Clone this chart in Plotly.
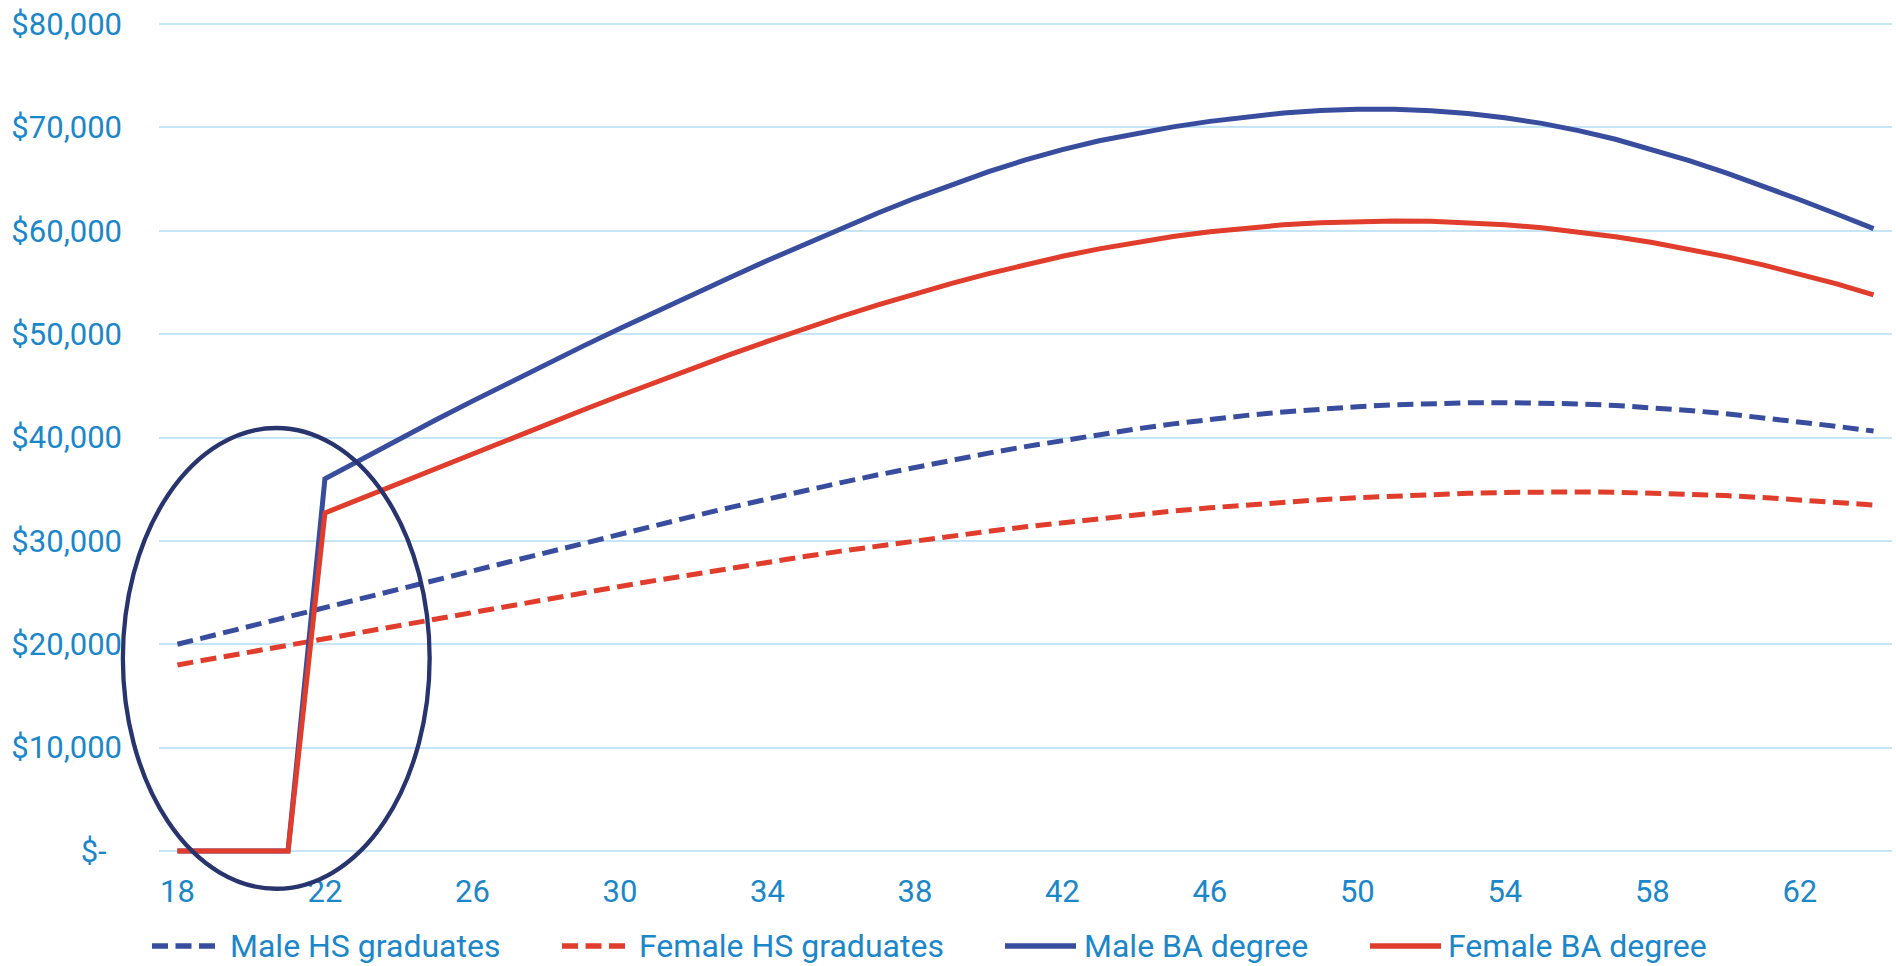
import plotly.graph_objects as go

# ---- data: average annual earnings by age ----
ages = list(range(18, 65))

male_hs = [20000, 20890, 21780, 22680, 23580, 24480, 25380, 26280, 27170, 28060,
           28940, 29820, 30690, 31550, 32400, 33240, 34060, 34860, 35640, 36390,
           37110, 37810, 38490, 39120, 39720, 40290, 40830, 41320, 41760, 42140,
           42470, 42750, 42980, 43160, 43280, 43350, 43370, 43340, 43250, 43100,
           42890, 42620, 42300, 41930, 41520, 41080, 40620]

female_hs = [18000, 18640, 19280, 19920, 20560, 21200, 21840, 22480, 23110, 23740,
             24360, 24980, 25590, 26190, 26780, 27360, 27930, 28480, 29010, 29520,
             30010, 30480, 30930, 31360, 31770, 32160, 32530, 32880, 33200, 33490,
             33750, 33980, 34180, 34350, 34490, 34600, 34680, 34730, 34740, 34710,
             34640, 34530, 34380, 34190, 33960, 33720, 33470]

male_ba = [0, 0, 0, 0, 36000, 37930, 39820, 41690, 43520, 45320,
           47100, 48840, 50550, 52230, 53880, 55510, 57120, 58690, 60230, 61720,
           63140, 64480, 65720, 66850, 67850, 68710, 69440, 70050, 70580, 71040,
           71400, 71640, 71760, 71750, 71610, 71340, 70930, 70390, 69690, 68850,
           67880, 66790, 65600, 64330, 63000, 61620, 60200]

female_ba = [0, 0, 0, 0, 32700, 34140, 35575, 37005, 38430, 39850,
             41260, 42655, 44035, 45395, 46730, 48035, 49303, 50530, 51705, 52830,
             53900, 54910, 55855, 56730, 57530, 58250, 58885, 59435, 59900, 60280,
             60575, 60785, 60910, 60950, 60920, 60800, 60590, 60290, 59900, 59420,
             58860, 58220, 57500, 56700, 55820, 54860, 53800]

series_names = ["Male HS graduates", "Female HS graduates", "Male BA degree", "Female BA degree"]
series_values = [male_hs, female_hs, male_ba, female_ba]

x_tick_vals = list(range(18, 63, 4))
x_tick_text = [str(v) for v in x_tick_vals]
y_tick_vals = list(range(0, 80001, 10000))
y_tick_text = ["$-\u00a0\u00a0"] + [f"${v:,}" for v in y_tick_vals[1:]]

# ---- styling ----
BLUE = "#394d9e"
RED = "#e03d2d"
NAVY = "#28346e"
TEXT = "#1b87c9"
GRID = "#c6e6f8"
FONT = "Roboto"
DASH = "16px,7.5px"

series_colors = [BLUE, RED, BLUE, RED]
series_dash = [DASH, DASH, "solid", "solid"]

W, H = 1896, 966
M_L, M_R, M_T, M_B = 159, 4, 20, 104
X_RANGE = [17.5, 64.5]
Y_RANGE = [-1064, 80387]

fig = go.Figure()
for name, vals, color, dash in zip(series_names, series_values, series_colors, series_dash):
    fig.add_trace(go.Scatter(
        x=ages, y=vals, name=name, mode="lines",
        line=dict(color=color, width=5, dash=dash),
        showlegend=False,
    ))

plot_w = W - M_L - M_R
plot_h = H - M_T - M_B


def px_to_paper_x(px):
    return (px - M_L) / plot_w


def px_to_paper_y(py):
    return (H - M_B - py) / plot_h


def data_to_paper_x(v):
    return (v - X_RANGE[0]) / (X_RANGE[1] - X_RANGE[0])


def data_to_paper_y(v):
    return (v - Y_RANGE[0]) / (Y_RANGE[1] - Y_RANGE[0])


shapes = []
# highlight ring around the college years (ages ~16.5 to ~24.8)
shapes.append(dict(
    type="circle", xref="paper", yref="paper",
    x0=data_to_paper_x(16.52), x1=data_to_paper_x(24.84),
    y0=data_to_paper_y(-3650), y1=data_to_paper_y(40920),
    line=dict(color=NAVY, width=4.3), fillcolor="rgba(0,0,0,0)", layer="above",
))

# legend drawn as line samples with labels along the bottom
legend_sym_x = [152, 562, 1005, 1370]
legend_sym_len = [64, 64, 71, 71]
legend_text_x = [228, 637, 1082, 1446]
legend_y = 946
annotations = []
for name, color, dash, sx, sl, tx in zip(series_names, series_colors, series_dash,
                                          legend_sym_x, legend_sym_len, legend_text_x):
    shapes.append(dict(
        type="line", xref="paper", yref="paper",
        x0=px_to_paper_x(sx), x1=px_to_paper_x(sx + sl),
        y0=px_to_paper_y(legend_y), y1=px_to_paper_y(legend_y),
        line=dict(color=color, width=5.5, dash=dash),
    ))
    annotations.append(dict(
        text=name, xref="paper", yref="paper",
        x=px_to_paper_x(tx), y=px_to_paper_y(legend_y),
        xanchor="left", yanchor="middle", showarrow=False,
        font=dict(family=FONT, size=32, color=TEXT),
    ))

fig.update_layout(
    width=W, height=H,
    margin=dict(l=M_L, r=M_R, t=M_T, b=M_B, pad=0),
    paper_bgcolor="white", plot_bgcolor="white",
    font=dict(family=FONT, size=31, color=TEXT),
    shapes=shapes, annotations=annotations,
    showlegend=False,
    xaxis=dict(
        range=X_RANGE, tickmode="array", tickvals=x_tick_vals, ticktext=x_tick_text,
        showgrid=False, zeroline=False, showline=False, ticks="",
        tickfont=dict(family=FONT, size=31, color=TEXT),
        ticklabelstandoff=8,
    ),
    yaxis=dict(
        range=Y_RANGE, tickmode="array", tickvals=y_tick_vals, ticktext=y_tick_text,
        showgrid=True, gridcolor=GRID, gridwidth=2, zeroline=False, showline=False,
        ticks="", tickfont=dict(family=FONT, size=31, color=TEXT),
        ticklabelstandoff=36,
    ),
)

fig.write_html("out.html")
